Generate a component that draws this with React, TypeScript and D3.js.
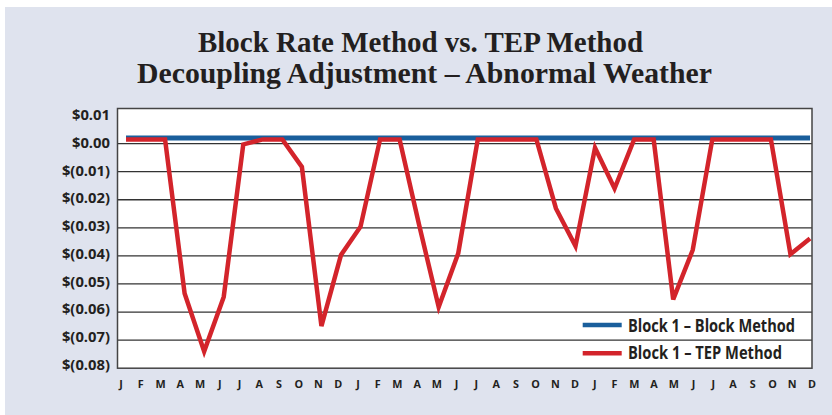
import React from "react";
import * as d3 from "d3";

const titleLines = ["Block Rate Method vs. TEP Method", "Decoupling Adjustment \u2013 Abnormal Weather"];

const monthTicks = [
  "J", "F", "M", "A", "M", "J", "J", "A", "S", "O", "N", "D",
  "J", "F", "M", "A", "M", "J", "J", "A", "S", "O", "N", "D",
  "J", "F", "M", "A", "M", "J", "J", "A", "S", "O", "N", "D",
];

const yTickValues = [0.01, 0.0, -0.01, -0.02, -0.03, -0.04, -0.05, -0.06, -0.07, -0.08];
const yTickLabels = ["$0.01", "$0.00", "$(0.01)", "$(0.02)", "$(0.03)", "$(0.04)", "$(0.05)", "$(0.06)", "$(0.07)", "$(0.08)"];
const gridValues = [0.0, -0.01, -0.02, -0.03, -0.04, -0.05, -0.06, -0.07];

const blockMethod = [
  0.002, 0.002, 0.002, 0.002, 0.002, 0.002, 0.002, 0.002, 0.002, 0.002, 0.002, 0.002,
  0.002, 0.002, 0.002, 0.002, 0.002, 0.002, 0.002, 0.002, 0.002, 0.002, 0.002, 0.002,
  0.002, 0.002, 0.002, 0.002, 0.002, 0.002, 0.002, 0.002, 0.002, 0.002, 0.002, 0.002,
];

const tepMethod = [
  0.0015, 0.0015, 0.0015, -0.0534, -0.074, -0.0546, -0.0003, 0.0015, 0.0015, -0.0083, -0.065, -0.0397,
  -0.0296, 0.0015, 0.0015, -0.029, -0.0582, -0.0391, 0.0015, 0.0015, 0.0015, 0.0015, -0.0231, -0.0365,
  -0.0015, -0.016, 0.0015, 0.0015, -0.0555, -0.0379, 0.0015, 0.0015, 0.0015, 0.0015, -0.0394, -0.0338,
];

const seriesNames = ["Block 1 \u2013 Block Method", "Block 1 \u2013 TEP Method"];

const BLUE = "#1a5f9c";
const RED = "#d3242b";
const INK = "#231f20";

export default function App() {
  const plot = { left: 117.5, top: 108.5, right: 812, bottom: 368.2 };

  const y = d3.scaleLinear().domain([-0.08, 0.0125]).range([plot.bottom, plot.top]);
  const yLabel = d3.scaleLinear().domain([0.01, -0.08]).range([114, 364]);
  const x = d3.scaleLinear().domain([0, 35]).range([126, 810]);
  const xLabel = d3.scaleLinear().domain([0, 35]).range([121, 812]);

  const line = d3
    .line<number>()
    .x((_, i) => x(i))
    .y((d) => y(d));

  const sans = "'Open Sans', 'DejaVu Sans', sans-serif";

  return (
    <svg
      width={832}
      height={415}
      viewBox="0 0 832 415"
      style={{ position: "absolute", left: 0, top: 0, background: "#ffffff" }}
    >
      <rect x={5} y={7} width={827} height={408} fill="#dfe3ee" />

      {titleLines.map((t, i) => (
        <text
          key={i}
          x={i === 0 ? 198 : 137}
          y={i === 0 ? 51.7 : 83.3}
          fontFamily="'Liberation Serif', 'DejaVu Serif', serif"
          fontWeight={700}
          fontSize={29.5}
          fill={INK}
          textLength={i === 0 ? 445 : 575}
          lengthAdjust="spacingAndGlyphs"
        >
          {t}
        </text>
      ))}

      <rect
        x={plot.left}
        y={plot.top}
        width={plot.right - plot.left}
        height={plot.bottom - plot.top}
        fill="#ffffff"
      />

      {gridValues.map((v) => (
        <line
          key={v}
          x1={plot.left}
          x2={plot.right}
          y1={y(v)}
          y2={y(v)}
          stroke="#333333"
          strokeWidth={1.3}
        />
      ))}

      <rect
        x={plot.left}
        y={plot.top}
        width={plot.right - plot.left}
        height={plot.bottom - plot.top}
        fill="none"
        stroke="#444444"
        strokeWidth={1.5}
      />

      {yTickValues.map((v, i) => (
        <text
          key={v}
          x={110}
          y={yLabel(v)}
          textAnchor="end"
          dominantBaseline="central"
          fontFamily={sans}
          fontWeight={700}
          fontSize={14.8}
          fill={INK}
        >
          {yTickLabels[i]}
        </text>
      ))}

      {monthTicks.map((m, i) => (
        <text
          key={i}
          x={xLabel(i)}
          y={388.3}
          textAnchor="middle"
          fontFamily={sans}
          fontWeight={700}
          fontSize={10.8}
          fill={INK}
        >
          {m}
        </text>
      ))}

      <path d={line(blockMethod) || ""} fill="none" stroke={BLUE} strokeWidth={5} />
      <path
        d={line(tepMethod) || ""}
        fill="none"
        stroke={RED}
        strokeWidth={4.5}
        strokeLinejoin="miter"
      />

      {seriesNames.map((name, i) => {
        const cy = i === 0 ? 325 : 353.3;
        const baseline = i === 0 ? 331.7 : 359.3;
        return (
          <g key={name}>
            <line x1={582.7} x2={621.7} y1={cy} y2={cy} stroke={i === 0 ? BLUE : RED} strokeWidth={4.5} />
            <text
              x={628}
              y={baseline}
              fontFamily={sans}
              fontWeight={700}
              fontSize={17.5}
              fill={INK}
              textLength={i === 0 ? 167 : 154}
              lengthAdjust="spacingAndGlyphs"
            >
              {name}
            </text>
          </g>
        );
      })}
    </svg>
  );
}
